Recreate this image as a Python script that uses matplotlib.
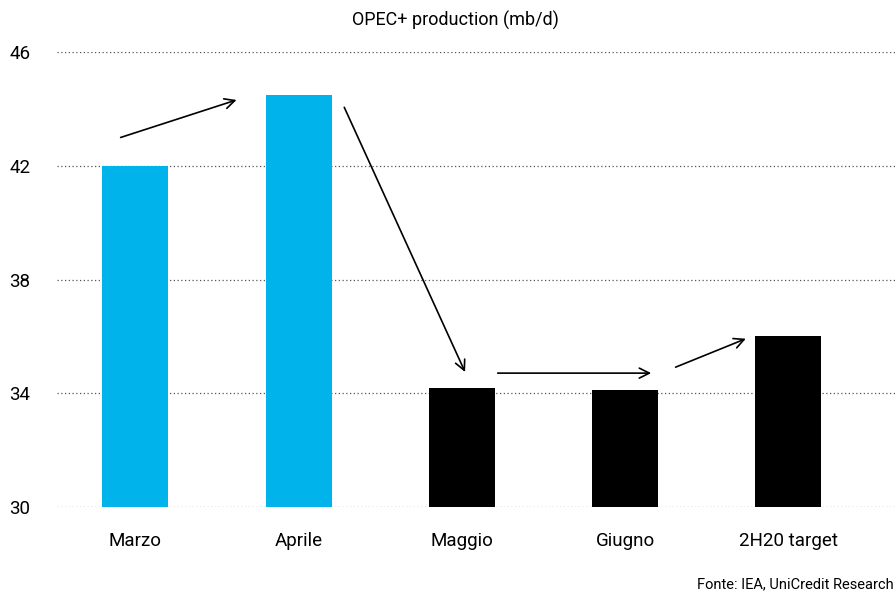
import numpy as np
import matplotlib.pyplot as plt

plt.rcParams['font.family'] = ['Roboto', 'DejaVu Sans']

categories = ['Marzo', 'Aprile', 'Maggio', 'Giugno', '2H20 target']
production = [42.0, 44.5, 34.2, 34.1, 36.0]
bar_colors = ['#00B4EB', '#00B4EB', '#000000', '#000000', '#000000']
yticks = [30, 34, 38, 42, 46]

fig = plt.figure(figsize=(8.96, 5.93), dpi=100)
ax = fig.add_axes([0.0636, 0.145, 0.9364, 0.767])

x = np.arange(len(categories))
ax.bar(x, np.array(production) - 30, bottom=30, width=0.405, color=bar_colors, zorder=2)

ax.set_ylim(30, 46)
ax.set_xlim(-0.48, 4.66)
ax.set_yticks(yticks)
ax.set_xticks(x)
ax.set_xticklabels(categories, fontsize=13.5)
ax.tick_params(axis='y', length=0, pad=19, labelsize=13.5)
ax.tick_params(axis='x', length=0, pad=18)
ax.grid(axis='y', linestyle=(0, (1, 2)), color='#555555', linewidth=0.9, zorder=1)
for s in ax.spines.values():
    s.set_visible(False)

# trend arrows
arrows = [((-0.09, 43.0), (0.62, 44.32)),
          ((1.28, 44.06), (2.02, 34.75)),
          ((2.22, 34.71), (3.16, 34.71)),
          ((3.31, 34.92), (3.74, 35.92))]
for start, end in arrows:
    ax.annotate('', xy=end, xytext=start,
                arrowprops=dict(arrowstyle='->', color='black', lw=1.2,
                                mutation_scale=18, shrinkA=0, shrinkB=0))

fig.text(455 / 896, 1 - 20 / 593, 'OPEC+ production (mb/d)', ha='center', va='center', fontsize=13)
fig.text(0.997, 1 - 584 / 593, 'Fonte: IEA, UniCredit Research', ha='right', va='center', fontsize=10.5)

fig.savefig('out.png', dpi=100)
